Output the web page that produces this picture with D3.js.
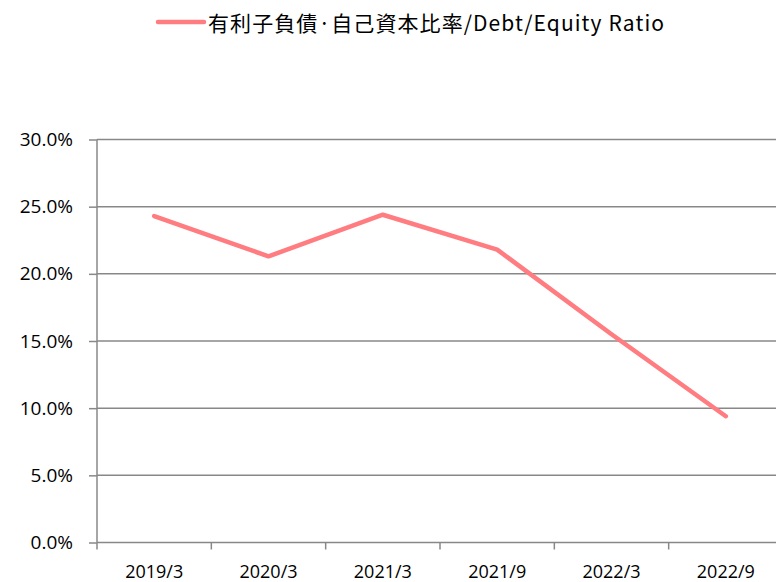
<!DOCTYPE html>
<meta charset="utf-8">
<style>
body { margin: 0; background: #fff; }
svg { display: block; }
.tick text { font-family: "Open Sans", "Noto Sans", sans-serif; font-size: 18px; fill: #000; }
</style>
<svg width="776" height="582"></svg>
<script src="https://d3js.org/d3.v7.min.js"></script>
<script>
var categories = ["2019/3", "2020/3", "2021/3", "2021/9", "2022/3", "2022/9"];
var ratios = [24.3, 21.3, 24.4, 21.8, 15.5, 9.4];
var yTicks = [0, 5, 10, 15, 20, 25, 30];
var seriesName = "有利子負債·自己資本比率/Debt/Equity Ratio";

var svg = d3.select("svg");
var lineColor = "#ff7c80", gridColor = "#888";

var x = d3.scaleBand().domain(categories).range([97, 783]);
var y = d3.scaleLinear().domain([0, 30]).range([542.5, 139.5]);

// horizontal gridlines
svg.append("g").selectAll("line")
  .data(yTicks.filter(function(d) { return d > 0; }))
  .enter().append("line")
  .attr("x1", 97).attr("x2", 776)
  .attr("y1", function(d) { return y(d); })
  .attr("y2", function(d) { return y(d); })
  .attr("stroke", gridColor).attr("stroke-width", 1.5);

// y axis
var yAxis = svg.append("g")
  .attr("transform", "translate(97,0)")
  .call(d3.axisLeft(y).tickValues(yTicks).tickSize(8).tickPadding(16)
    .tickFormat(function(d) { return d.toFixed(1) + "%"; }));
yAxis.selectAll("line, path").attr("stroke", gridColor).attr("stroke-width", 1.5);
yAxis.select(".domain").attr("d", "M0,139.5V542.5");
yAxis.selectAll(".tick text").style("font-size", "19px");

// x axis with ticks at band boundaries
var xAxis = svg.append("g")
  .attr("transform", "translate(0,542.5)")
  .call(d3.axisBottom(x).tickSize(0).tickPadding(22.5));
xAxis.select(".domain").attr("d", "M97,0H776").attr("stroke", gridColor).attr("stroke-width", 1.5);
xAxis.append("g").selectAll("line")
  .data(categories)
  .enter().append("line")
  .attr("x1", function(d) { return x(d); })
  .attr("x2", function(d) { return x(d); })
  .attr("y1", 0).attr("y2", 7)
  .attr("stroke", gridColor).attr("stroke-width", 1.5);

// series line
var line = d3.line()
  .x(function(d, i) { return x(categories[i]) + x.bandwidth() / 2; })
  .y(function(d) { return y(d); });
svg.append("path")
  .datum(ratios)
  .attr("d", line)
  .attr("fill", "none")
  .attr("stroke", lineColor)
  .attr("stroke-width", 4.5)
  .attr("stroke-linecap", "round")
  .attr("stroke-linejoin", "round");

// legend
var legend = svg.append("g").attr("transform", "translate(158,22)");
legend.append("line")
  .attr("x1", 0).attr("x2", 46)
  .attr("stroke", lineColor).attr("stroke-width", 4.5).attr("stroke-linecap", "round");
legend.append("text")
  .attr("x", 50).attr("y", 0)
  .attr("dominant-baseline", "central")
  .attr("font-family", "'Noto Sans CJK JP', sans-serif")
  .attr("font-size", 21)
  .attr("textLength", 456)
  .attr("lengthAdjust", "spacing")
  .text(seriesName);
</script>
